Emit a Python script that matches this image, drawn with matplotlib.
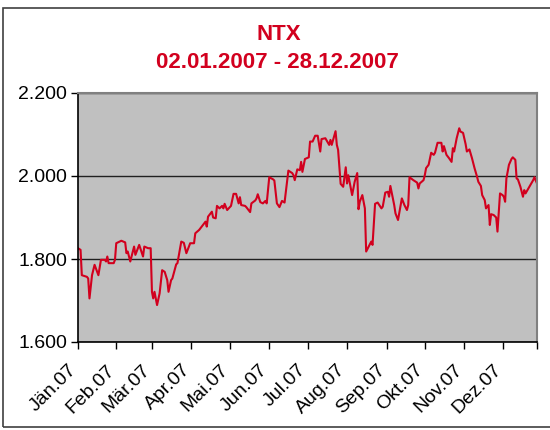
import matplotlib
matplotlib.use("Agg")
import matplotlib.pyplot as plt
import matplotlib.transforms as mtransforms
from matplotlib.patches import Rectangle
import pandas as pd

# NTX daily closes 2007 (day offset from 02.01.2007, index level in thousands)
start = pd.Timestamp("2007-01-02")
day_offsets = [
    0, 2, 3, 7, 8, 9, 11, 13, 16, 18, 21, 22, 23, 24, 28, 29, 30, 34, 37, 38,
    39, 41, 44, 45, 48, 51, 52, 55, 57, 58, 59, 60, 62, 64, 66, 68, 70, 71, 73, 74,
    77, 78, 81, 83, 85, 88, 91, 92, 95, 98, 100, 101, 102, 105, 106, 108, 109,
    111, 113, 114, 115, 117, 120, 122, 124, 126, 127, 128, 131, 132, 135, 136, 139,
    140, 141, 143, 145, 147, 148, 150, 153, 154, 156, 158, 160, 162, 165, 168, 169,
    170, 172, 174, 175, 176, 178, 181, 182, 184, 186, 188, 190, 191, 194, 197, 198,
    199, 202, 203, 204, 206, 208, 210, 211, 212, 215, 217, 219, 220, 221, 223, 225,
    226, 228, 230, 231, 233, 235,
    238, 239, 241, 243, 244, 245, 247, 248, 249, 251, 254, 256, 258, 259, 260, 263,
    266, 267, 268, 271, 272, 273, 275, 277, 279, 280, 282, 285, 286, 287, 289, 291,
    293, 294, 295, 297, 299, 300, 302, 304, 305, 307, 309, 311, 313, 314, 316, 317,
    319, 320, 322, 323, 324, 326, 328, 329, 331, 333, 334, 335, 336, 338, 340, 341,
    343, 344, 345, 347, 349, 350, 351, 354, 357, 358, 360,
]
closes = [
    1.826, 1.822, 1.761, 1.757, 1.753, 1.705, 1.761, 1.786, 1.761, 1.798, 1.798, 1.794,
    1.806, 1.790, 1.790, 1.798, 1.838, 1.844, 1.840, 1.814, 1.818, 1.794, 1.830, 1.810,
    1.834, 1.806, 1.830, 1.826, 1.826, 1.721, 1.705, 1.721, 1.689, 1.717, 1.773, 1.769,
    1.749, 1.721, 1.749, 1.753, 1.787, 1.790, 1.842, 1.839, 1.814, 1.838, 1.838, 1.862,
    1.870, 1.882, 1.890, 1.878, 1.902, 1.914, 1.900, 1.898, 1.928,
    1.922, 1.928, 1.922, 1.933, 1.918, 1.928, 1.957, 1.957, 1.934, 1.949, 1.930, 1.928,
    1.925, 1.913, 1.934, 1.941, 1.946, 1.956, 1.937, 1.934, 1.940, 1.934, 1.997, 1.992,
    1.989, 1.934, 1.925, 1.940, 1.936, 2.013, 2.007, 2.002, 1.990, 2.016, 2.014, 2.034,
    2.010, 2.041, 2.045, 2.083, 2.083, 2.097, 2.097, 2.059, 2.089, 2.091, 2.075, 2.087,
    2.075, 2.108, 2.075, 2.063, 1.981, 1.974, 2.021, 1.982, 2.002, 1.954, 1.986, 2.007,
    1.920, 1.938, 1.954, 1.922, 1.818, 1.830, 1.842, 1.834, 1.933, 1.936,
    1.922, 1.926, 1.960, 1.962, 1.950, 1.976, 1.946, 1.930, 1.910, 1.894, 1.946, 1.930,
    1.918, 1.930, 1.997, 1.990, 1.984, 1.970, 1.982, 1.990, 2.002, 2.019, 2.027, 2.056,
    2.051, 2.056, 2.080, 2.080, 2.059, 2.072, 2.051, 2.043, 2.034, 2.067, 2.059, 2.091,
    2.115, 2.107, 2.104, 2.077, 2.059, 2.064, 2.043, 2.019, 1.998, 1.986, 1.976, 1.954,
    1.942, 1.922, 1.930, 1.882, 1.908, 1.906, 1.900, 1.866, 1.958, 1.954, 1.950, 1.938,
    1.994, 2.027, 2.041, 2.045, 2.039, 1.994, 1.992, 1.974, 1.950, 1.966, 1.958, 1.974,
    1.990, 1.997, 1.982,
]
month_labels = ["Jän.07", "Feb.07", "Mär.07", "Apr.07", "Mai.07", "Jun.07",
                "Jul.07", "Aug.07", "Sep.07", "Okt.07", "Nov.07", "Dez.07"]
y_ticks = [1.6, 1.8, 2.0, 2.2]
y_labels = ["1.600", "1.800", "2.000", "2.200"]

RED = "#D2001E"
plt.rcParams["font.family"] = ["Liberation Sans", "DejaVu Sans"]

dates = [start + pd.Timedelta(days=d) for d in day_offsets]
end = pd.Timestamp("2007-12-28")

fig = plt.figure(figsize=(5.5, 4.3), dpi=100)
fig.patches.append(Rectangle((3 / 550, 1 - 427 / 430), 2, 419 / 430, transform=fig.transFigure,
                             fill=False, edgecolor="#404040", linewidth=1.2))

ax = fig.add_axes([78 / 550, 1 - 342 / 430, 459 / 550, 249 / 430])
ax.set_facecolor("#C0C0C0")
ax.plot(dates, closes, color=RED, linewidth=1.5)

ax.set_ylim(1.6, 2.2)
ax.set_yticks(y_ticks)
ax.set_yticklabels(y_labels, fontsize=14)
ax.yaxis.grid(True, color="#202020", linewidth=1.0)
ax.set_axisbelow(True)

ax.set_xlim(start, end)
month_starts = [pd.Timestamp(2007, m, 1) for m in range(1, 13)]
tick_pos = [start] + month_starts[1:] + [end]
ax.set_xticks(tick_pos)
ax.set_xticklabels(month_labels + [""], fontsize=14, rotation=45, ha="right",
                   rotation_mode="anchor")
ax.tick_params(axis="x", direction="out", length=5, pad=9, width=1)
ax.tick_params(axis="y", direction="out", length=5, pad=3, width=1)

# nudge the rotated month labels left, like the original
shift = mtransforms.ScaledTranslation(-10 / 100, 0, fig.dpi_scale_trans)
for lbl in ax.get_xticklabels():
    lbl.set_transform(lbl.get_transform() + shift)

for side in ["left", "bottom"]:
    ax.spines[side].set_color("black")
    ax.spines[side].set_linewidth(1.2)
for side in ["top", "right"]:
    ax.spines[side].set_color("#808080")
    ax.spines[side].set_linewidth(1.5)

fig.text(279 / 550, 1 - 35 / 430, "NTX", color=RED, fontsize=16, fontweight="bold",
         ha="center", va="center")
fig.text(277 / 550, 1 - 62 / 430, "02.01.2007 - 28.12.2007", color=RED, fontsize=16,
         fontweight="bold", ha="center", va="center")

fig.savefig("out.png", dpi=100)
